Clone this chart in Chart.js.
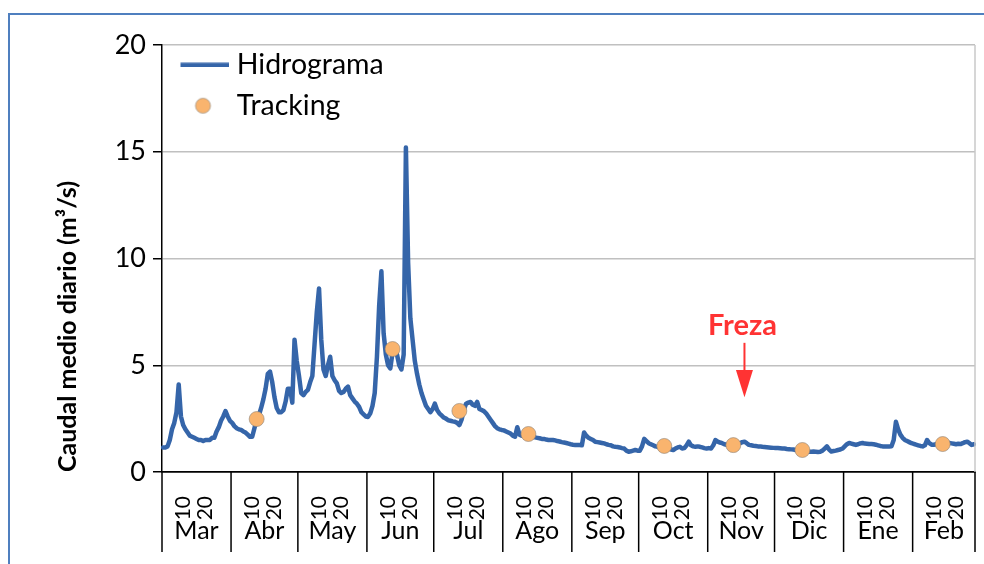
<!DOCTYPE html>
<html>
<head>
<meta charset="utf-8">
<script src="https://cdn.jsdelivr.net/npm/chart.js@4.4.1/dist/chart.umd.min.js"></script>
<style>
    html, body { margin: 0; padding: 0; background: #fff; }
    #marco {
        position: absolute; left: 8px; top: 13px; width: 1000px; height: 600px;
        border-left: 2px solid #4f7fbf; border-top: 2px solid #4f7fbf;
    }
    #grafico { position: absolute; left: 0; top: 0; }
</style>
</head>
<body>
<div id="marco"></div>
<canvas id="grafico" width="984" height="564"></canvas>
<script>

// DATOS: CAUDAL MEDIO DIARIO (m3/s) POR MES

const meses = ["Mar", "Abr", "May", "Jun", "Jul", "Ago", "Sep", "Oct", "Nov", "Dic", "Ene", "Feb"];

const caudalMar = [1.15, 1.15, 1.2, 1.5, 2.0, 2.3, 2.8, 4.1, 2.6, 2.2, 2.0, 1.85, 1.7, 1.65, 1.6, 1.55, 1.5, 1.5, 1.45, 1.5, 1.5, 1.5, 1.6, 1.6, 1.9, 2.1, 2.4, 2.6, 2.85, 2.6, 2.4];
const caudalAbr = [2.3, 2.15, 2.05, 2.0, 1.97, 1.9, 1.85, 1.75, 1.65, 1.65, 2.05, 2.45, 2.65, 3.0, 3.4, 3.9, 4.6, 4.7, 4.2, 3.5, 3.0, 2.8, 2.8, 2.9, 3.3, 3.9, 3.9, 3.25, 6.2, 5.2];
const caudalMay = [4.5, 3.7, 3.6, 3.75, 3.85, 4.2, 4.5, 6.0, 7.5, 8.6, 6.2, 4.8, 4.5, 5.0, 5.4, 4.5, 4.3, 4.15, 3.8, 3.7, 3.75, 3.9, 4.0, 3.6, 3.45, 3.3, 3.2, 3.05, 2.8, 2.7, 2.6];
const caudalJun = [2.58, 2.75, 3.1, 3.7, 5.4, 7.8, 9.4, 6.5, 5.5, 5.0, 4.85, 5.6, 5.9, 5.5, 5.0, 4.8, 5.5, 15.2, 9.8, 7.2, 6.2, 5.2, 4.6, 4.1, 3.7, 3.4, 3.1, 2.95, 2.8, 2.95];
const caudalJul = [3.2, 2.9, 2.75, 2.65, 2.55, 2.5, 2.42, 2.4, 2.37, 2.35, 2.3, 2.2, 2.45, 2.9, 3.2, 3.25, 3.28, 3.15, 3.1, 3.28, 2.95, 2.9, 2.85, 2.75, 2.6, 2.45, 2.3, 2.15, 2.05, 2.0, 1.97];
const caudalAgo = [1.95, 1.9, 1.85, 1.8, 1.7, 1.65, 2.1, 1.75, 1.7, 1.75, 1.75, 1.75, 1.7, 1.65, 1.62, 1.6, 1.58, 1.55, 1.55, 1.52, 1.5, 1.5, 1.5, 1.48, 1.45, 1.43, 1.4, 1.38, 1.36, 1.33, 1.3];
const caudalSep = [1.28, 1.27, 1.26, 1.26, 1.25, 1.85, 1.7, 1.6, 1.55, 1.5, 1.42, 1.4, 1.38, 1.36, 1.34, 1.3, 1.27, 1.25, 1.2, 1.18, 1.17, 1.15, 1.12, 1.1, 1.0, 0.95, 0.97, 1.0, 1.03, 1.0];
const caudalOct = [1.0, 1.2, 1.55, 1.45, 1.35, 1.3, 1.25, 1.2, 1.18, 1.15, 1.2, 1.2, 1.15, 1.1, 1.05, 1.03, 1.1, 1.15, 1.18, 1.1, 1.12, 1.25, 1.42, 1.25, 1.2, 1.18, 1.2, 1.18, 1.15, 1.12, 1.1];
const caudalNov = [1.12, 1.1, 1.25, 1.5, 1.42, 1.38, 1.35, 1.3, 1.28, 1.25, 1.25, 1.25, 1.3, 1.32, 1.35, 1.4, 1.42, 1.35, 1.27, 1.25, 1.23, 1.22, 1.2, 1.2, 1.18, 1.17, 1.16, 1.15, 1.14, 1.13];
const caudalDic = [1.12, 1.12, 1.11, 1.1, 1.1, 1.08, 1.07, 1.06, 1.05, 1.03, 1.02, 1.0, 1.0, 0.98, 0.97, 0.95, 0.95, 0.96, 0.95, 0.94, 0.95, 1.0, 1.1, 1.2, 1.05, 0.96, 0.98, 1.0, 1.03, 1.05, 1.1];
const caudalEne = [1.2, 1.3, 1.36, 1.33, 1.3, 1.27, 1.3, 1.34, 1.36, 1.33, 1.32, 1.31, 1.31, 1.3, 1.28, 1.25, 1.22, 1.2, 1.2, 1.2, 1.19, 1.2, 1.5, 2.35, 2.0, 1.75, 1.6, 1.5, 1.45, 1.4, 1.35];
const caudalFeb = [1.32, 1.28, 1.25, 1.22, 1.2, 1.25, 1.5, 1.35, 1.28, 1.28, 1.3, 1.32, 1.32, 1.33, 1.35, 1.36, 1.36, 1.34, 1.32, 1.3, 1.32, 1.31, 1.35, 1.4, 1.42, 1.35, 1.27, 1.3];

// TRACKING (mes = posicion en "meses")

const trackingMes = [1, 3, 4, 5, 7, 8, 9, 11];
const trackingDia = [12, 12, 12, 12, 12, 12, 13, 14];
const trackingCaudal = [2.48, 5.76, 2.86, 1.78, 1.22, 1.26, 1.03, 1.31];

// ANOTACION FREZA

const frezaMes = 8;
const frezaDia = 17;


const azul = "#3565a9";
const naranja = "#f9b46e";

const caudalMeses = [caudalMar, caudalAbr, caudalMay, caudalJun, caudalJul, caudalAgo,
    caudalSep, caudalOct, caudalNov, caudalDic, caudalEne, caudalFeb];

const inicioMes = [];
let acumulado = 0;
caudalMeses.forEach((m) => {
    inicioMes.push(acumulado);
    acumulado += m.length;
});

const dias = caudalMeses.flatMap((m) => m.map((v, i) => i + 1));
const caudal = caudalMeses.flat();

const tracking = caudal.map(() => null);
trackingMes.forEach((m, k) => {
    tracking[inicioMes[m] + trackingDia[k] - 1] = trackingCaudal[k];
});


// MUESTRAS DE LA LEYENDA

function muestraLinea() {
    const c = document.createElement("canvas");
    c.width = 60;
    c.height = 5;
    const g = c.getContext("2d");
    g.fillStyle = azul;
    g.fillRect(12, 0.5, 48, 4.5);
    return c;
}

function muestraPunto() {
    const c = document.createElement("canvas");
    c.width = 28;
    c.height = 18;
    const g = c.getContext("2d");
    g.fillStyle = naranja;
    g.strokeStyle = "rgba(140,130,120,0.6)";
    g.beginPath();
    g.arc(18.5, 9, 7.5, 0, Math.PI * 2);
    g.fill();
    g.stroke();
    return c;
}


// EJE DE MESES Y ANOTACION

const decoracion = {
    id: "decoracion",
    afterLayout(chart) {
        chart.legend.left = chart.chartArea.left;
        chart.legend.top = chart.chartArea.top - 7;
    },
    afterDraw(chart) {
        const { ctx, chartArea, scales: { x, y } } = chart;
        const ancho = x.getPixelForValue(1) - x.getPixelForValue(0);

        ctx.save();

        ctx.strokeStyle = "#c8c8c8";
        ctx.lineWidth = 1.5;
        ctx.beginPath();
        ctx.moveTo(chartArea.right, chartArea.top);
        ctx.lineTo(chartArea.right, chartArea.bottom);
        ctx.stroke();

        ctx.strokeStyle = "#000";
        ctx.fillStyle = "#000";
        ctx.font = "25px Lato";
        ctx.textAlign = "center";
        ctx.textBaseline = "middle";

        caudalMeses.forEach((m, k) => {
            const x0 = x.getPixelForValue(inicioMes[k]) - ancho / 2;
            const x1 = x.getPixelForValue(inicioMes[k] + m.length - 1) + ancho / 2;
            ctx.beginPath();
            ctx.moveTo(x0, chartArea.bottom);
            ctx.lineTo(x0, chartArea.bottom + 80);
            if (k === caudalMeses.length - 1) {
                ctx.moveTo(x1, chartArea.bottom);
                ctx.lineTo(x1, chartArea.bottom + 80);
            }
            ctx.stroke();
            ctx.fillText(meses[k], (x0 + x1) / 2, chartArea.bottom + 59);
        });

        const xf = x.getPixelForValue(inicioMes[frezaMes] + frezaDia - 1);
        ctx.fillStyle = "#ff3333";
        ctx.strokeStyle = "#ff3333";
        ctx.font = "bold 29px Lato";
        ctx.fillText("Freza", xf - 2, y.getPixelForValue(6.85));
        ctx.lineWidth = 2;
        ctx.beginPath();
        ctx.moveTo(xf, y.getPixelForValue(6.05));
        ctx.lineTo(xf, y.getPixelForValue(4.7));
        ctx.stroke();
        ctx.beginPath();
        ctx.moveTo(xf - 8.5, y.getPixelForValue(4.78));
        ctx.lineTo(xf + 8.5, y.getPixelForValue(4.78));
        ctx.lineTo(xf, y.getPixelForValue(3.5));
        ctx.closePath();
        ctx.fill();

        ctx.restore();
    }
};


// CREAR GRAFICO

Chart.defaults.font.family = "Lato";
Chart.defaults.color = "#000";

new Chart(document.getElementById("grafico"), {
    type: "line",
    data: {
        labels: dias,
        datasets: [{
            label: "Hidrograma",
            data: caudal,
            borderColor: azul,
            borderWidth: 4.5,
            borderJoinStyle: "round",
            borderCapStyle: "round",
            pointRadius: 0,
            pointHoverRadius: 0,
            tension: 0,
            order: 1
        }, {
            label: "Tracking",
            data: tracking,
            showLine: false,
            pointRadius: 7.5,
            pointHoverRadius: 7.5,
            backgroundColor: naranja,
            borderColor: "rgba(140,130,120,0.6)",
            borderWidth: 1,
            order: 0
        }]
    },
    options: {
        responsive: false,
        animation: false,
        devicePixelRatio: 1,
        layout: {
            padding: { left: 0, top: 45, right: 9, bottom: 0 }
        },
        plugins: {
            tooltip: { enabled: false },
            legend: {
                position: "chartArea",
                align: "start",
                labels: {
                    font: { size: 28.5 },
                    color: "#000",
                    padding: 12.5,
                    usePointStyle: true,
                    pointStyleWidth: 48,
                    generateLabels: (chart) => {
                        const items = Chart.defaults.plugins.legend.labels.generateLabels(chart);
                        items.sort((a, b) => a.datasetIndex - b.datasetIndex);
                        items[0].pointStyle = muestraLinea();
                        items[1].pointStyle = muestraPunto();
                        return items;
                    }
                }
            }
        },
        scales: {
            x: {
                offset: true,
                grid: { display: false },
                border: { color: "#000", width: 1.5 },
                ticks: {
                    autoSkip: false,
                    minRotation: 90,
                    maxRotation: 90,
                    padding: 16,
                    font: { size: 21 },
                    callback: function (value) {
                        const d = dias[value];
                        return (d === 10 || d === 20) ? String(d) : "";
                    }
                },
                afterFit: (scale) => {
                    scale.height = 92;
                    scale.paddingLeft = 0;
                    scale.paddingRight = 0;
                }
            },
            y: {
                min: 0,
                max: 20,
                ticks: {
                    stepSize: 5,
                    padding: 7,
                    font: { size: 27 }
                },
                grid: {
                    color: (c) => (c.tick && c.tick.value === 0) ? "#000" : "#c0c0c0",
                    lineWidth: 1.5,
                    tickColor: "#000",
                    tickLength: 9
                },
                border: { color: "#000", width: 1.5 },
                title: {
                    display: true,
                    text: "Caudal medio diario (m³/s)",
                    align: "start",
                    font: { size: 25, weight: "bold" },
                    padding: { top: 53, bottom: 0 }
                },
                afterFit: (scale) => {
                    scale.width = 162;
                }
            }
        }
    },
    plugins: [decoracion]
});

</script>
</body>
</html>
